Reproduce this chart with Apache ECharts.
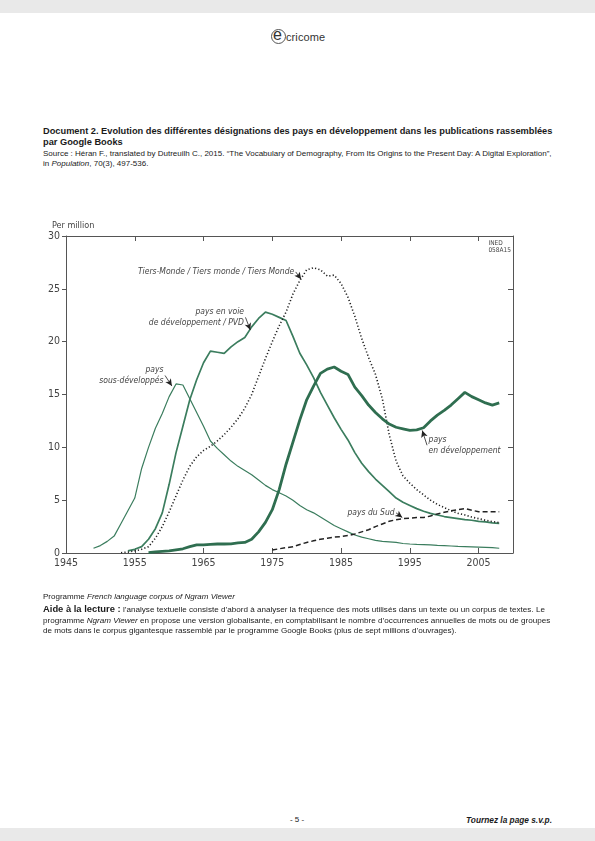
<!DOCTYPE html>
<html>
<head>
<meta charset="utf-8">
<script src="https://cdn.jsdelivr.net/npm/echarts@6/dist/echarts.min.js"></script>
<style>
  html, body { margin:0; padding:0; background:#fff; }
  #page { position:relative; width:595px; height:841px; overflow:hidden; font-family:"Liberation Sans", Arial, sans-serif; color:#1a1a1a; -webkit-font-smoothing:antialiased; }
  .band { position:absolute; left:0; width:595px; background:#e9e9e9; }
  .t { position:absolute; left:43px; white-space:nowrap; }
  #chart { position:absolute; left:0; top:200px; width:595px; height:400px; }
</style>
</head>
<body>
<div id="page">
  <div class="band" style="top:0;height:13px;"></div>
  <div class="band" style="top:828px;height:13px;"></div>

  <div style="position:absolute;left:271px;top:29px;height:18px;font-family:'Liberation Sans',Arial;color:#333;">
    <span style="position:absolute;left:0;top:0;width:15px;height:15px;border:1px solid #555;border-radius:50%;box-sizing:border-box;"></span>
    <span style="position:absolute;left:2px;top:-3px;font-size:16px;line-height:18px;color:#333;">e</span>
    <span style="position:absolute;left:15px;top:2px;font-size:11px;line-height:13px;letter-spacing:0.1px;">cricome</span>
  </div>

  <div class="t" style="top:126px;font-size:9.25px;font-weight:bold;line-height:11px;">Document 2. Evolution des différentes désignations des pays en développement dans les publications rassemblées<br>par Google Books</div>
  <div class="t" style="top:149px;font-size:8px;line-height:10px;">Source : Héran F., translated by Dutreuilh C., 2015. “The Vocabulary of Demography, From Its Origins to the Present Day: A Digital Exploration”,<br>in <i>Population</i>, 70(3), 497-536.</div>

  <div id="chart"></div>

  <div class="t" style="top:592px;font-size:8px;line-height:10px;">Programme <i>French language corpus of Ngram Viewer</i></div>
  <div class="t" style="top:604px;font-size:8.1px;line-height:10.5px;"><b style="font-size:9.4px;">Aide à la lecture :</b> l’analyse textuelle consiste d’abord à analyser la fréquence des mots utilisés dans un texte ou un corpus de textes. Le<br>programme <i>Ngram Viewer</i> en propose une version globalisante, en comptabilisant le nombre d’occurrences annuelles de mots ou de groupes<br>de mots dans le corpus gigantesque rassemblé par le programme Google Books (plus de sept millions d’ouvrages).</div>

  <div style="position:absolute;left:277px;width:40px;text-align:center;top:815px;font-size:8px;">- 5 -</div>
  <div style="position:absolute;right:43px;top:815px;font-size:8.3px;font-weight:bold;font-style:italic;">Tournez la page s.v.p.</div>
</div>

<script>
// ---- data ----
var years = [1949,1950,1951,1952,1953,1954,1955,1956,1957,1958,1959,1960,1961,1962,1963,1964,1965,1966,1967,1968,1969,1970,1971,1972,1973,1974,1975,1976,1977,1978,1979,1980,1981,1982,1983,1984,1985,1986,1987,1988,1989,1990,1991,1992,1993,1994,1995,1996,1997,1998,1999,2000,2001,2002,2003,2004,2005,2006,2007,2008];

var paysSousDev = [0.45,0.7,1.1,1.6,2.8,4.0,5.2,8.0,10.0,11.8,13.2,14.8,16.0,15.9,14.6,13.3,12.0,10.6,9.9,9.3,8.7,8.2,7.8,7.4,6.9,6.4,6.0,5.7,5.4,5.0,4.5,4.1,3.8,3.4,3.0,2.6,2.3,2.0,1.7,1.5,1.35,1.2,1.1,1.05,1.0,0.9,0.85,0.82,0.8,0.76,0.72,0.7,0.66,0.62,0.6,0.58,0.56,0.54,0.5,0.45];

var paysVoieDev = [null,null,null,null,null,0.2,0.35,0.6,1.3,2.3,3.8,6.5,9.5,12.0,14.5,16.4,18.0,19.1,19.0,18.9,19.5,20.0,20.4,21.4,22.2,22.8,22.6,22.3,22.0,20.5,18.9,17.8,16.6,15.2,14.0,12.8,11.7,10.7,9.5,8.5,7.7,7.0,6.4,5.8,5.2,4.8,4.5,4.2,3.95,3.75,3.6,3.45,3.35,3.25,3.15,3.1,3.0,2.95,2.85,2.8];

var paysEnDev = [null,null,null,null,null,null,null,null,0.03,0.1,0.15,0.2,0.3,0.4,0.6,0.76,0.76,0.82,0.85,0.85,0.87,0.95,1.0,1.3,2.0,2.9,4.1,6.0,8.4,10.5,12.6,14.5,15.8,17.0,17.4,17.6,17.2,16.9,15.7,14.9,14.0,13.3,12.7,12.2,11.9,11.75,11.6,11.65,11.85,12.5,13.05,13.5,14.0,14.6,15.2,14.8,14.5,14.2,14.0,14.2];

var tiersMonde = [null,null,null,null,0.03,0.08,0.2,0.35,0.6,1.4,2.5,3.9,5.4,6.9,8.2,9.1,9.7,10.1,10.6,11.2,11.9,12.7,13.7,15.0,16.7,18.4,20.0,21.5,22.8,24.5,25.8,26.8,27.0,26.8,26.2,26.3,25.5,24.2,22.4,20.3,18.5,16.9,14.6,11.2,8.7,7.3,6.6,6.0,5.5,5.0,4.6,4.3,4.0,3.75,3.6,3.4,3.25,3.1,2.97,2.87];

var paysDuSud = [null,null,null,null,null,null,null,null,null,null,null,null,null,null,null,null,null,null,null,null,null,null,null,null,null,null,0.28,0.4,0.5,0.6,0.8,1.0,1.15,1.3,1.4,1.5,1.55,1.65,1.8,2.0,2.2,2.5,2.75,3.0,3.15,3.25,3.3,3.35,3.35,3.5,3.7,3.85,4.0,4.1,4.2,4.05,3.9,3.9,3.9,3.9];

var yTicks = [0,5,10,15,20,25,30];
var xTicks = [1945,1955,1965,1975,1985,1995,2005];

var labelSousDev = 'pays\nsous-développés';
var labelVoieDev = 'pays en voie\nde développement / PVD';
var labelEnDev = 'pays\nen développement';
var labelTiers = 'Tiers-Monde / Tiers monde / Tiers Monde';
var labelSud = 'pays du Sud';

function pairs(vals){ return years.map(function(y,i){ return vals[i]==null ? null : [y, vals[i]]; }).filter(function(p){return p;}); }

var green = '#3b7d5e';
var darkGreen = '#2f6e50';
var txt = '#444';
var font = '"Liberation Sans Narrow","DejaVu Sans Condensed","Roboto Condensed",Arial,sans-serif';

function annot(text, at, tip, side){
  var lbl = {
    show:true, formatter:text, position: side, color:txt, fontSize:8.5, fontStyle:'italic',
    fontFamily:font, lineHeight:11.5, align: side==='left' ? 'right' : 'left', distance:1
  };
  return {
    point: { coord: at, symbol:'circle', symbolSize:1, itemStyle:{color:'rgba(0,0,0,0)'}, label: lbl },
    line: [ { coord: at }, { coord: tip } ]
  };
}

function withAnnot(a){
  if(!a) return {};
  return {
    markPoint: { silent:true, animation:false, data:[a.point] },
    markLine: { silent:true, animation:false, symbol:['none','arrow'], symbolSize:[5,7],
      lineStyle:{color:'#222', width:0.8, type:'solid'}, label:{show:false}, data:[a.line] }
  };
}

var aSous = annot(labelSousDev, [1959.4, 16.8], [1960.4, 15.8], 'left');
var aVoie = annot(labelVoieDev, [1971.1, 22.3], [1971.8, 21.1], 'left');
var aEn = annot(labelEnDev, [1997.5, 10.2], [1996.8, 11.6], 'right');
var aTiers = annot(labelTiers, [1978.4, 26.6], [1979.2, 25.9], 'left');
var aSud = annot(labelSud, [1993.0, 3.8], [1993.9, 3.35], 'left');

function mk(name, vals, style, a){
  var s = { name:name, type:'line', data:pairs(vals), showSymbol:false, symbol:'none', smooth:false,
    lineStyle:style, xAxisIndex:0, yAxisIndex:0, animation:false, z: style.z || 2 };
  var extra = withAnnot(a);
  for(var k in extra) s[k]=extra[k];
  return s;
}

var chart = echarts.init(document.getElementById('chart'), null, {renderer:'canvas'});
var axisLineStyle = {color:'#555', width:1};
chart.setOption({
  animation:false,
  grid:{ left:66, right:82, top:36, bottom:47 },
  xAxis:[
    { type:'value', min:1945, max:2010, interval:10, position:'bottom',
      axisLine:{show:true, lineStyle:axisLineStyle, onZero:false},
      axisTick:{show:true, inside:true, length:5, lineStyle:axisLineStyle},
      axisLabel:{ color:txt, fontSize:10.5, fontFamily:font, margin:5, showMaxLabel:false,
        formatter:function(v){ return xTicks.indexOf(v)>=0 ? String(v) : ''; } },
      splitLine:{show:false} },
    { type:'value', min:1945, max:2010, interval:10, position:'top',
      axisLine:{show:true, lineStyle:axisLineStyle, onZero:false},
      axisTick:{show:true, inside:true, length:5, lineStyle:axisLineStyle},
      axisLabel:{show:false}, splitLine:{show:false} }
  ],
  yAxis:[
    { type:'value', min:0, max:30, interval:5, position:'left', name:'Per million',
      nameLocation:'end', nameGap:6, nameTextStyle:{color:txt, fontSize:9, fontFamily:font, align:'left', padding:[0,0,0,-14]},
      axisLine:{show:true, lineStyle:axisLineStyle, onZero:false},
      axisTick:{show:true, inside:false, length:4, lineStyle:axisLineStyle},
      axisLabel:{ color:txt, fontSize:10.5, fontFamily:font, margin:6,
        formatter:function(v){ return yTicks.indexOf(v)>=0 ? String(v) : ''; } },
      splitLine:{show:false} },
    { type:'value', min:0, max:30, interval:5, position:'right',
      axisLine:{show:true, lineStyle:axisLineStyle, onZero:false},
      axisTick:{show:true, inside:true, length:5, lineStyle:axisLineStyle},
      axisLabel:{show:false}, splitLine:{show:false} }
  ],
  graphic:[
    { type:'text', right:84, top:40, style:{ text:'INED\n058A15', fill:'#444', fontSize:6.5, fontFamily:font, align:'right', lineHeight:7 } }
  ],
  series:[
    mk('pays sous-développés', paysSousDev, {color:green, width:1.2}, aSous),
    mk('pays en voie de développement / PVD', paysVoieDev, {color:green, width:1.7}, aVoie),
    mk('Tiers-Monde / Tiers monde / Tiers Monde', tiersMonde, {color:'#222', width:1.6, type:[1.2,2.2]}, aTiers),
    mk('pays du Sud', paysDuSud, {color:'#222', width:1.5, type:[5,3]}, aSud),
    mk('pays en développement', paysEnDev, {color:darkGreen, width:2.8, z:3}, aEn)
  ]
});
</script>
</body>
</html>
